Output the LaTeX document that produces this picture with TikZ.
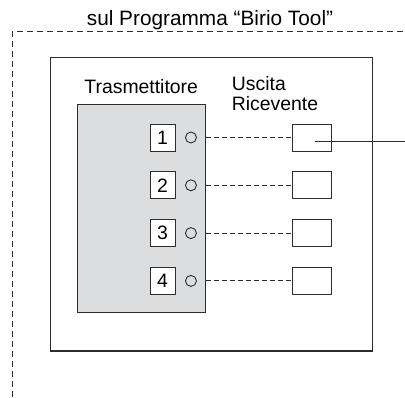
\documentclass[tikz,border=0pt]{standalone}
\usepackage{fontspec}
\setmainfont{Liberation Sans}
\usetikzlibrary{positioning}
\definecolor{txgray}{RGB}{220,221,223}
\definecolor{linegray}{RGB}{45,45,45}

\begin{document}
\begin{tikzpicture}[
    x=1pt, y=-1pt,
    font=\fontsize{19.4}{20}\selectfont,
    label/.style={inner sep=0pt},
    frame/.style={draw=linegray, line width=1.1pt},
    chbox/.style={rectangle, draw=linegray, line width=1pt, fill=white, minimum width=25pt, minimum height=27pt, inner sep=0pt},
    rxbox/.style={rectangle, draw=linegray, line width=1pt, fill=white, minimum width=39pt, minimum height=27pt, inner sep=0pt},
    led/.style={circle, draw=linegray, line width=0.9pt, minimum size=11pt, inner sep=0pt},
    link/.style={dash pattern=on 5pt off 3pt, draw=linegray, line width=1pt},
]
\useasboundingbox (0,0) rectangle (405,397);

% titolo e contorno tratteggiato
\node[label, anchor=base, font=\fontsize{20.8}{21}\selectfont] (title) at (210,25) {sul Programma “Birio Tool”};
\draw[draw=linegray, line width=1pt, dash pattern=on 6pt off 4pt] (12.3,397) -- (12.3,31.7) -- (405,31.7);

% riquadro esterno e trasmettitore
\node[frame, rectangle, minimum width=322pt, minimum height=293.3pt, inner sep=0pt] (panel) at (211.7,204.3) {};
\node[frame, rectangle, fill=txgray, minimum width=127.7pt, minimum height=208pt, inner sep=0pt] (tx) at (141.2,208.3) {};

\node[label, anchor=base] (txlabel) at (141.2,93) {Trasmettitore};
\node[label, anchor=base west] (usc) at (231.7,90) {Uscita};
\node[label, anchor=base west] (ric) at (231.7,110) {Ricevente};

% canali
\node[chbox] (n1) at (162.5,137.5) {1};
\node[chbox, below=19.8pt of n1] (n2) {2};
\node[chbox, below=19.8pt of n2] (n3) {3};
\node[chbox, below=19.8pt of n3] (n4) {4};

\foreach \i in {1,...,4} {
    \node[led, right=9.5pt of n\i] (c\i) {};
    \node[rxbox] (r\i) at (311.5,0 |- n\i) {};
    \draw[link] (tx.east |- r\i.west) -- (r\i.west);
}

% uscita verso l'esterno
\coordinate (out) at (405,141.5);
\draw[draw=linegray, line width=1.1pt] ([xshift=3.5pt,yshift=-4pt]r1.center) -- (out);

\end{tikzpicture}
\end{document}
